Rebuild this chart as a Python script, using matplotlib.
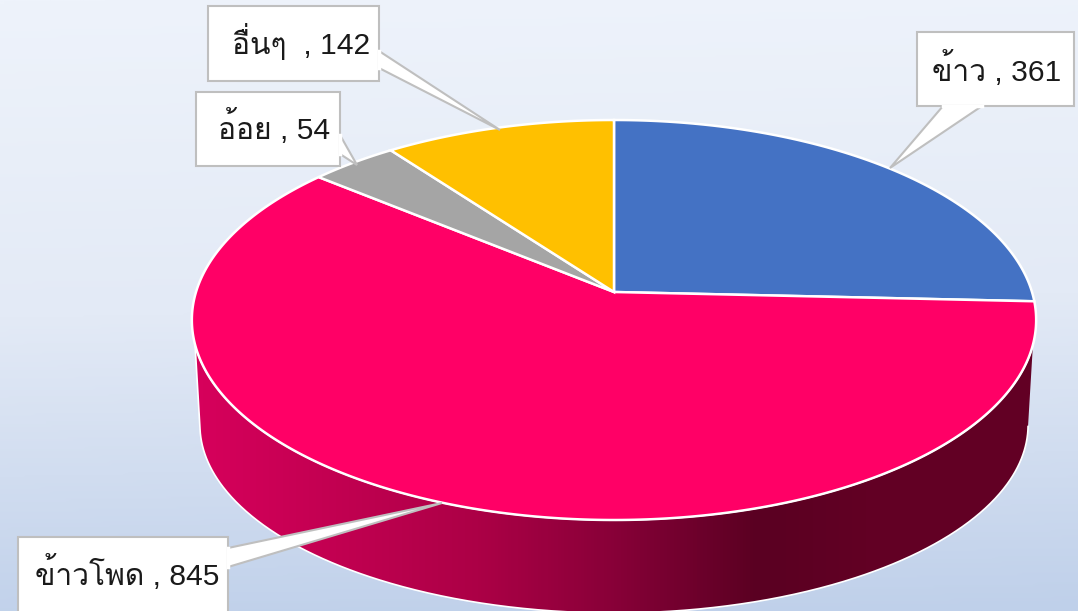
import numpy as np
import matplotlib
matplotlib.use("Agg")
import matplotlib.pyplot as plt
from matplotlib.path import Path
from matplotlib.patches import PathPatch, Polygon, Rectangle
from matplotlib.colors import LinearSegmentedColormap

labels = ["ข้าว , 361", "ข้าวโพด , 845", "อ้อย , 54", "อื่นๆ  , 142"]
values = [361, 845, 54, 142]
colors = ["#4472C4", "#FF0066", "#A5A5A5", "#FFC000"]

# digits from Liberation, thai falls through to Loma
plt.rcParams['font.family'] = ["Liberation Sans", "Loma", "Noto Sans Thai Looped", "DejaVu Sans"]

W, H = 1078, 611
fig = plt.figure(figsize=(W/100, H/100), dpi=100)
ax = fig.add_axes([0, 0, 1, 1])
ax.set_xlim(0, W)
ax.set_ylim(H, 0)
ax.axis("off")

gx, gy = np.meshgrid(np.linspace(0, 1, 128), np.linspace(0, 1, 256))
bg = LinearSegmentedColormap.from_list("bg", ["#EEF3FB", "#E3EAF6", "#BFD0EA"])
ax.imshow(np.clip(0.96*gy + 0.04*gx, 0, 1), extent=[0, W, H, 0], cmap=bg, aspect="auto", zorder=0)

def rim(t, k=418, y0=292, a=-155.2, c=0.14):
    # t is clockwise from top, on a tilted disc in perspective
    u, v = np.sin(t), np.cos(t)
    d = 1 + c*v
    return 614 + k*u/d, (a*v + y0)/d

t = np.linspace(0, 2*np.pi, 1441)
xt, yt = rim(t)
xb, yb = rim(t, k=410, y0=398.7, a=-128.5)

# side wall, straight parts run from the top disc down to the widest point of the lower one
top_part = yt >= 344
low_part = yb >= 425
def order(x, y, mask):
    p = np.c_[x[mask], y[mask]]
    return p[np.argsort(-p[:, 0])]
side = np.r_[order(xt, yt, top_part), order(xb, yb, low_part)[::-1]]
side_cm = LinearSegmentedColormap.from_list("side", [(0, "#D8005C"), (0.34, "#AC0046"), (0.5, "#880038"),
                                                     (0.67, "#5A0022"), (0.8, "#620024"), (1, "#620024")])
im = ax.imshow(np.linspace(0, 1, 256).reshape(1, -1), extent=[190, 1038, H+40, 300], cmap=side_cm, aspect="auto", zorder=1)
wall = PathPatch(Path(side), transform=ax.transData, fc="none", ec="white", lw=1.2, zorder=1.5)
im.set_clip_path(wall)
ax.add_patch(wall)
ax.set_xlim(0, W)
ax.set_ylim(H, 0)

# slices
edges = np.r_[0, np.cumsum(values)]/np.sum(values)*2*np.pi
for i in range(len(values)):
    s = np.linspace(edges[i], edges[i+1], 300)
    x, y = rim(s)
    ax.add_patch(Polygon(np.c_[np.r_[614, x], np.r_[292, y]], closed=True, fc=colors[i], ec="white", lw=1.8, zorder=2))

# callouts: box, then tail
boxes = [(917, 32, 157, 74), (18, 537, 210, 80), (196, 92, 144, 74), (208, 6, 171, 75)]
tails = [[(943, 106), (890, 168), (982, 106)],
         [(228, 548), (442, 503), (228, 567)],
         [(340, 135), (357, 165), (340, 154)],
         [(379, 51), (500, 130), (379, 68)]]
texts = [(1061, 81), (219, 585), (330, 139), (370, 54)]
for i in range(len(labels)):
    bx, by, bw, bh = boxes[i]
    ax.add_patch(Rectangle((bx, by), bw, bh, fc="white", ec="#BFBFBF", lw=1.5, zorder=3))
    ax.add_patch(Polygon(tails[i], closed=True, fc="white", ec="#BFBFBF", lw=1.5, zorder=3))
    ax.plot([tails[i][0][0], tails[i][2][0]], [tails[i][0][1], tails[i][2][1]], color="white", lw=2.5, zorder=4)
    ax.text(texts[i][0], texts[i][1], labels[i], fontsize=21.6, ha="right", va="baseline", color="#1A1A1A", zorder=5)

fig.savefig("out.png", dpi=100)
